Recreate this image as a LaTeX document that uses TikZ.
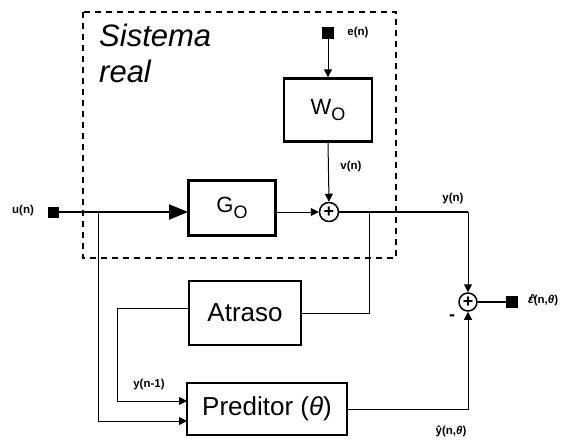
\documentclass[tikz,border=0pt]{standalone}
\usepackage{fontspec}
\setmainfont{Liberation Sans}
\usetikzlibrary{arrows.meta}
\begin{document}
\begin{tikzpicture}[x=1pt,y=-1pt,
  blk/.style={draw, line width=2.4pt, inner sep=0pt, font=\fontsize{26}{28}\selectfont},
  sumc/.style={circle, draw, line width=1.5pt, inner sep=0pt, minimum size=19pt, font=\bfseries\fontsize{18}{18}\selectfont},
  term/.style={fill, inner sep=0pt, minimum size=11pt},
  lbl/.style={inner sep=0pt, font=\bfseries\fontsize{11.5}{13}\selectfont},
  arr/.style={-{Triangle[length=8pt,width=8pt]}, line width=1pt},
  thinarr/.style={-{Triangle[length=8pt,width=8pt]}, line width=0.8pt},
  bigarr/.style={-{Triangle[length=19pt,width=15pt]}, line width=2pt},
  frame/.style={dashed, dash pattern=on 6pt off 5pt, line width=1.2pt}
]
\useasboundingbox (0,0) rectangle (567,439);

% dashed system frame
\draw[frame] (83,12) rectangle (396,258);
\node[anchor=north west, inner sep=0pt, align=left, font=\itshape\fontsize{31}{36}\selectfont] (sr) at (99,24) {Sistema\\real};

% blocks
\node[blk, minimum width=87pt, minimum height=55pt, font=\fontsize{22}{24}\selectfont] (G) at (232,208) {G\raisebox{-6pt}{\fontsize{18}{18}\selectfont O}};
\node[blk, minimum width=88pt, minimum height=63pt, font=\fontsize{22}{24}\selectfont] (W) at (328,110) {W\raisebox{-6pt}{\fontsize{18}{18}\selectfont O}};
\node[blk, minimum width=112pt, minimum height=64pt] (A) at (245,313) {Atraso};
\node[blk, minimum width=160pt, minimum height=52pt] (P) at (267,409) {Preditor (\textit{θ})};

% summing junctions
\node[sumc] (S1) at (329,212) {+};
\node[sumc, minimum size=18pt] (S2) at (468,302) {+};

% terminals
\node[term] (U) at (53,212) {};
\node[term, minimum size=12pt] (E) at (328,33) {};
\node[term, minimum size=12pt] (EPS) at (512,302) {};

% labels
\node[lbl] (lu) at (23,211) {u(n)};
\node[lbl] (le) at (358,33) {e(n)};
\node[lbl] (lv) at (351,167) {v(n)};
\node[lbl] (ly) at (453,199) {y(n)};
\node[lbl] (ly1) at (149,385) {y(n-1)};
\node[lbl] (lyh) at (451,431) {ŷ(n,\textit{θ})};
\node[lbl, anchor=west] (leps) at (528,300) {\makebox[0pt][l]{\hspace{1.2pt}\raisebox{1.5pt}{\^{}}}\textit{ε}(n,\textit{θ})};
\node[lbl, font=\bfseries\fontsize{18}{18}\selectfont] (lm) at (452,318) {-};

% coordinates for connector corners
\coordinate (bu) at (98,212);
\coordinate (bu2) at (98,421);
\coordinate (pin2) at (187,421);
\coordinate (gin) at (188,212);
\coordinate (by) at (369,212);
\coordinate (c1) at (468,212);
\coordinate (aw) at (189,308);
\coordinate (ad) at (117,308);
\coordinate (ad2) at (117,401);
\coordinate (pin1) at (187,401);

% connectors
\draw[bigarr] (U) -- (gin);
\draw[line width=0.9pt] (bu) -- (bu2);
\draw[thinarr] (bu2) -- (pin2);
\draw[arr] (E) -- (W.north);
\draw[arr] (W.south) -- (S1.north);
\draw[thinarr] (G.east |- S1.west) -- (S1.west);
\draw[line width=1.8pt] (S1.east) -- (c1);
\draw[arr] (c1) -- (S2.north);
\draw[line width=0.9pt] (by) |- (A.east);
\draw[line width=0.9pt] (aw) -- (ad) -- (ad2);
\draw[thinarr] (ad2) -- (pin1);
\draw[arr] (P.east) -| (S2.south);
\draw[line width=1.3pt] (S2.east) -- (EPS);
\end{tikzpicture}
\end{document}
